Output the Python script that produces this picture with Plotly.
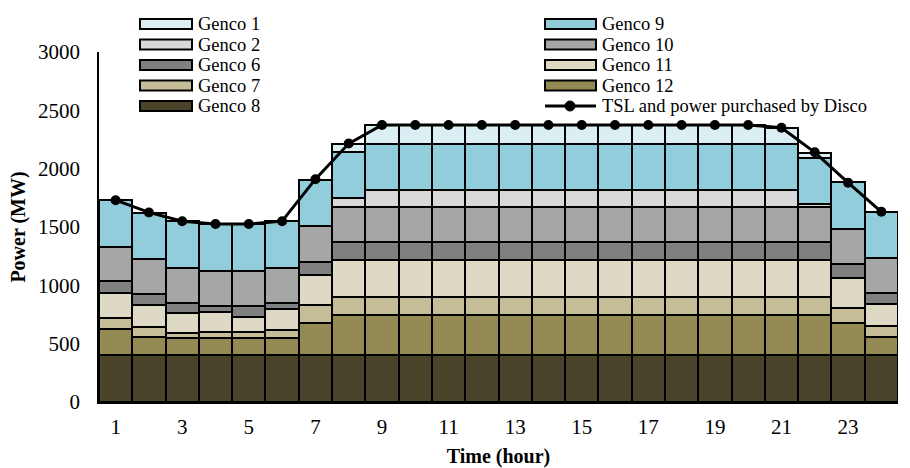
import plotly.graph_objects as go

hours = [1, 2, 3, 4, 5, 6, 7, 8, 9, 10, 11, 12, 13, 14, 15, 16, 17, 18, 19, 20, 21, 22, 23, 24]
tick_vals = [1, 3, 5, 7, 9, 11, 13, 15, 17, 19, 21, 23]
tick_text = ["1", "3", "5", "7", "9", "11", "13", "15", "17", "19", "21", "23"]

genco8 = [400, 400, 400, 400, 400, 400, 400, 400, 400, 400, 400, 400, 400, 400, 400, 400, 400, 400, 400, 400, 400, 400, 400, 400]
genco12 = [230, 160, 152, 150, 150, 150, 280, 350, 350, 350, 350, 350, 350, 350, 350, 350, 350, 350, 350, 350, 350, 350, 280, 160]
genco7 = [92, 86, 43, 52, 46, 66, 155, 150, 150, 150, 150, 150, 150, 150, 150, 150, 150, 150, 150, 150, 150, 150, 128, 91]
genco11 = [214, 185, 166, 168, 134, 180, 252, 315, 315, 315, 315, 315, 315, 315, 315, 315, 315, 315, 315, 315, 315, 315, 252, 189]
genco6 = [100, 92, 86, 50, 92, 49, 115, 155, 155, 155, 155, 155, 155, 155, 155, 155, 155, 155, 155, 155, 155, 155, 123, 92]
genco10 = [295, 300, 305, 305, 300, 305, 305, 300, 300, 300, 300, 300, 300, 300, 300, 300, 300, 300, 300, 300, 300, 300, 300, 300]
genco2 = [0, 0, 0, 0, 0, 0, 0, 75, 145, 145, 145, 145, 145, 145, 145, 145, 145, 145, 145, 145, 145, 25, 0, 0]
genco9 = [400, 400, 400, 400, 400, 400, 400, 400, 400, 400, 400, 400, 400, 400, 400, 400, 400, 400, 400, 400, 400, 400, 400, 400]
genco1 = [0, 0, 0, 0, 0, 0, 0, 70, 160, 160, 160, 160, 160, 160, 160, 160, 160, 160, 160, 160, 130, 40, 0, 0]
tsl = [1730, 1625, 1550, 1525, 1525, 1550, 1910, 2215, 2375, 2375, 2375, 2375, 2375, 2375, 2375, 2375, 2375, 2375, 2375, 2375, 2350, 2140, 1880, 1630]

# stacking order bottom -> top
stack = [
    ("Genco 8", genco8, "#4A452A"),
    ("Genco 12", genco12, "#948A54"),
    ("Genco 7", genco7, "#C4BD97"),
    ("Genco 11", genco11, "#DDD9C4"),
    ("Genco 6", genco6, "#808080"),
    ("Genco 10", genco10, "#A6A6A6"),
    ("Genco 2", genco2, "#D9D9D9"),
    ("Genco 9", genco9, "#92CDDC"),
    ("Genco 1", genco1, "#DAEEF3"),
]
tsl_name = "TSL and power purchased by Disco"

FONT = "Liberation Serif, Times New Roman, serif"

fig = go.Figure()
for name, vals, col in stack:
    fig.add_trace(go.Bar(x=hours, y=vals, name=name, marker=dict(color=col, line=dict(color="black", width=2)),
                         showlegend=False))
fig.add_trace(go.Scatter(x=hours, y=tsl, name=tsl_name, mode="lines+markers",
                         line=dict(color="black", width=3), marker=dict(color="black", size=10),
                         showlegend=False))

# plot area in pixels
L, R, T, B = 99, 898, 52, 402
W, H = 910, 468


def px(x):
    return (x - L) / (R - L)


def py(y):
    return (B - y) / (B - T)


colors = {n: c for n, _, c in stack}
left_col = ["Genco 1", "Genco 2", "Genco 6", "Genco 7", "Genco 8"]
right_col = ["Genco 9", "Genco 10", "Genco 11", "Genco 12"]
rows = [24, 44.5, 65, 85.5, 106]
LEG_SIZE = 18.5
shapes = []
annotations = []
for names, x0, x1, xt in [(left_col, 140, 192, 197), (right_col, 545, 596, 601)]:
    for n, yc in zip(names, rows):
        shapes.append(dict(type="rect", xref="paper", yref="paper", x0=px(x0), x1=px(x1),
                           y0=py(yc + 5), y1=py(yc - 5), fillcolor=colors[n],
                           line=dict(color="black", width=2)))
        annotations.append(dict(xref="paper", yref="paper", x=px(xt), y=py(yc), text=n, showarrow=False,
                                xanchor="left", yanchor="middle", borderpad=0,
                                font=dict(family=FONT, size=LEG_SIZE, color="black")))
# TSL legend entry
yc = rows[4]
shapes.append(dict(type="line", xref="paper", yref="paper", x0=px(545), x1=px(596), y0=py(yc), y1=py(yc),
                   line=dict(color="black", width=3)))
shapes.append(dict(type="circle", xref="paper", yref="paper", x0=px(565), x1=px(575), y0=py(yc + 5), y1=py(yc - 5),
                   fillcolor="black", line=dict(color="black", width=1)))
annotations.append(dict(xref="paper", yref="paper", x=px(601), y=py(yc), text=tsl_name, showarrow=False,
                        xanchor="left", yanchor="middle", borderpad=0,
                        font=dict(family=FONT, size=LEG_SIZE, color="black")))

fig.update_layout(
    width=W, height=H,
    margin=dict(l=L, r=W - R, t=T, b=H - B),
    barmode="stack", bargap=0,
    plot_bgcolor="white", paper_bgcolor="white",
    font=dict(family=FONT, size=21, color="black"),
    shapes=shapes, annotations=annotations,
    showlegend=False,
)
fig.update_xaxes(range=[0.5, 24.5], tickvals=tick_vals, ticktext=tick_text, showgrid=False, zeroline=False,
                 showline=True, linecolor="black", linewidth=2, ticks="", ticklabelstandoff=5,
                 automargin=False,
                 title=dict(text="<b>Time (hour)</b>", standoff=15, font=dict(family=FONT, size=20)))
fig.update_yaxes(range=[0, 3000], dtick=500, showgrid=False, zeroline=False,
                 showline=True, linecolor="black", linewidth=1.5, ticks="", ticklabelstandoff=13,
                 automargin=False,
                 title=dict(text="<b>Power (MW)</b>", standoff=7, font=dict(family=FONT, size=20)))

fig.write_html("out.html")
